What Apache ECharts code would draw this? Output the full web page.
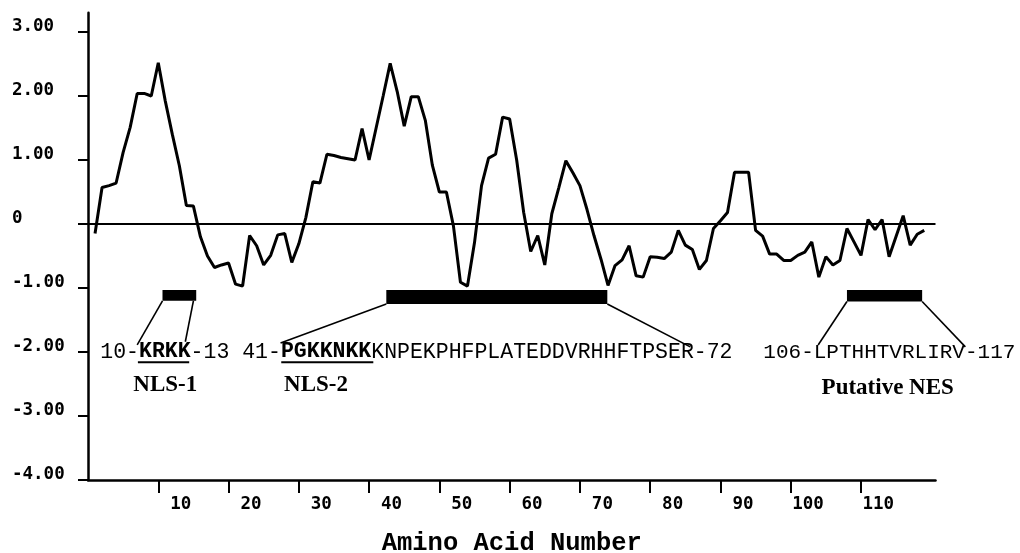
<!DOCTYPE html>
<html><head><meta charset="utf-8">
<script src="https://cdn.jsdelivr.net/npm/echarts@6/dist/echarts.min.js"></script>
<style>html,body{margin:0;padding:0;background:#fff}#c{width:1020px;height:553px}</style>
</head><body><div id="c"></div>
<script>
// Hydropathy values per residue (1..119)
const hydropathy = [
  -0.15, 0.57, 0.60, 0.64, 1.12, 1.51, 2.04, 2.04, 2.00, 2.52,
   1.92, 1.40, 0.91, 0.29, 0.28, -0.20, -0.50, -0.68, -0.64, -0.61,
  -0.94, -0.97, -0.18, -0.34, -0.64, -0.49, -0.17, -0.15, -0.60, -0.31,
   0.10, 0.66, 0.64, 1.09, 1.07, 1.04, 1.02, 1.00, 1.49, 1.00,
   1.50, 2.00, 2.51, 2.07, 1.53, 1.99, 1.99, 1.62, 0.92, 0.50,
   0.50, -0.03, -0.91, -0.97, -0.29, 0.60, 1.03, 1.09, 1.67, 1.64,
   1.00, 0.18, -0.43, -0.18, -0.64, 0.16, 0.57, 0.99, 0.80, 0.60,
   0.23, -0.18, -0.55, -0.96, -0.65, -0.56, -0.34, -0.81, -0.83, -0.51,
  -0.52, -0.54, -0.44, -0.10, -0.33, -0.40, -0.71, -0.57, -0.07, 0.05,
   0.18, 0.81, 0.81, 0.81, -0.10, -0.19, -0.47, -0.47, -0.57, -0.57,
  -0.49, -0.44, -0.28, -0.83, -0.51, -0.64, -0.57, -0.07, -0.28, -0.49,
   0.07, -0.09, 0.07, -0.51, -0.19, 0.13, -0.33, -0.16, -0.10
];
const residues = hydropathy.map((_, i) => i + 1);

const xTickValues = [10, 20, 30, 40, 50, 60, 70, 80, 90, 100, 110];
const xTickLabels = ['10', '20', '30', '40', '50', '60', '70', '80', '90', '100', '110'];
const yTickValues = [3, 2, 1, 0, -1, -2, -3, -4];
const yTickLabels = ['3.00', '2.00', '1.00', '0', '-1.00', '-2.00', '-3.00', '-4.00'];
const xAxisTitle = 'Amino Acid Number';

// Motif regions: [xStart, xEnd, yTop, yBottom] in data units
const motifBars = [[10.6, 15.4, -1.03, -1.20], [42.45, 73.9, -1.03, -1.25], [108.0, 118.7, -1.03, -1.21]];
// Leader lines: [x1, y1, x2, y2] in data units
const leaderLines = [
  [10.6, -1.20, 7.0, -1.89], [15.0, -1.20, 13.85, -1.84],
  [42.45, -1.25, 27.4, -1.86], [73.9, -1.25, 85.7, -1.92],
  [108.0, -1.21, 103.9, -1.89], [118.7, -1.21, 124.85, -1.92]
];
// Underlines: [x1, x2, y]
const underlines = [[7.1, 14.4, -2.16], [27.5, 40.6, -2.16]];
// Sequence texts and anchors
const sequenceTexts = ['10-{b|KRKK}-13 41-{b|PGKKNKK}KNPEKPHFPLATEDDVRHHFTPSER-72', '106-LPTHHTVRLIRV-117'];
const sequenceAnchors = [[1.75, -2.0], [96.1, -2.0]];
const sequenceFontSizes = [21.5, 21];
const motifNames = ['NLS-1', 'NLS-2', 'Putative NES'];
const motifNameAnchors = [[11.0, -2.52], [32.45, -2.52], [113.8, -2.56]];

const monoFont = 'Liberation Mono';
const tickFont = 'DejaVu Sans Mono';

const chart = echarts.init(document.getElementById('c'));
chart.setOption({
  animation: false,
  backgroundColor: '#fff',
  grid: { left: 88, right: 84.5, top: 12.8, bottom: 73, containLabel: false, outerBoundsMode: 'none' },
  xAxis: {
    type: 'value', min: 0, max: 120.6,
    axisLine: { show: true, onZero: false, lineStyle: { color: '#000', width: 2.5 } },
    axisTick: { show: true, customValues: xTickValues, length: 13, lineStyle: { color: '#000', width: 2 } },
    axisLabel: {
      customValues: xTickValues,
      formatter: v => '{t|' + xTickLabels[xTickValues.indexOf(v)] + '}',
      align: 'left', verticalAlign: 'middle', margin: 24,
      rich: { t: { width: 33, align: 'right', fontFamily: tickFont, fontSize: 17.5, fontWeight: 'bold', color: '#000' } }
    },
    splitLine: { show: false },
    name: xAxisTitle, nameLocation: 'middle', nameGap: 64,
    nameTextStyle: { fontFamily: monoFont, fontSize: 25.5, fontWeight: 'bold', color: '#000', verticalAlign: 'middle' }
  },
  yAxis: {
    type: 'value', min: -4, max: 3.3,
    axisLine: { show: true, onZero: false, lineStyle: { color: '#000', width: 2.5 } },
    axisTick: { show: true, customValues: yTickValues, length: 10, lineStyle: { color: '#000', width: 2 } },
    axisLabel: {
      customValues: yTickValues,
      formatter: v => '{t|' + yTickLabels[yTickValues.indexOf(v)] + '}',
      align: 'right', verticalAlign: 'middle', margin: 14, padding: [0, 0, 12, 0],
      rich: { t: { width: 62, align: 'left', fontFamily: tickFont, fontSize: 17.5, fontWeight: 'bold', color: '#000' } }
    },
    splitLine: { show: false }
  },
  series: [
    {
      type: 'line',
      data: residues.map((r, i) => [r, hydropathy[i]]),
      showSymbol: false, symbol: 'none', silent: true, z: 4,
      lineStyle: { color: '#000', width: 3 },
      emphasis: { disabled: true },
      markLine: {
        silent: true, symbol: 'none', label: { show: false },
        lineStyle: { color: '#000', width: 2, type: 'solid' },
        emphasis: { disabled: true },
        data: [{ yAxis: 0 }]
      }
    },
    {
      type: 'custom', coordinateSystem: 'cartesian2d', silent: true, clip: false, z: 5,
      data: motifBars, encode: { x: [0, 1], y: [2, 3] },
      renderItem(params, api) {
        const p1 = api.coord([api.value(0), api.value(2)]);
        const p2 = api.coord([api.value(1), api.value(3)]);
        return { type: 'rect', shape: { x: p1[0], y: p1[1], width: p2[0] - p1[0], height: p2[1] - p1[1] }, style: { fill: '#000' } };
      }
    },
    {
      type: 'custom', coordinateSystem: 'cartesian2d', silent: true, clip: false, z: 5,
      data: leaderLines, encode: { x: [0, 2], y: [1, 3] },
      renderItem(params, api) {
        const p1 = api.coord([api.value(0), api.value(1)]);
        const p2 = api.coord([api.value(2), api.value(3)]);
        return { type: 'line', shape: { x1: p1[0], y1: p1[1], x2: p2[0], y2: p2[1] }, style: { stroke: '#000', lineWidth: 1.6 } };
      }
    },
    {
      type: 'custom', coordinateSystem: 'cartesian2d', silent: true, clip: false, z: 5,
      data: underlines, encode: { x: [0, 1], y: 2 },
      renderItem(params, api) {
        const p1 = api.coord([api.value(0), api.value(2)]);
        const p2 = api.coord([api.value(1), api.value(2)]);
        return { type: 'line', shape: { x1: p1[0], y1: p1[1], x2: p2[0], y2: p2[1] }, style: { stroke: '#000', lineWidth: 2 } };
      }
    },
    {
      type: 'custom', coordinateSystem: 'cartesian2d', silent: true, clip: false, z: 6,
      data: sequenceAnchors, encode: { x: 0, y: 1 },
      renderItem(params, api) {
        const p = api.coord([api.value(0), api.value(1)]);
        const fs = sequenceFontSizes[params.dataIndex];
        return {
          type: 'text',
          style: {
            x: p[0], y: p[1], text: sequenceTexts[params.dataIndex],
            fontFamily: monoFont, fontSize: fs, fill: '#000',
            align: 'left', verticalAlign: 'middle',
            rich: { b: { fontFamily: monoFont, fontSize: fs, fontWeight: 'bold', fill: '#000' } }
          }
        };
      }
    },
    {
      type: 'custom', coordinateSystem: 'cartesian2d', silent: true, clip: false, z: 6,
      data: motifNameAnchors, encode: { x: 0, y: 1 },
      renderItem(params, api) {
        const p = api.coord([api.value(0), api.value(1)]);
        return {
          type: 'text',
          style: {
            x: p[0], y: p[1], text: motifNames[params.dataIndex],
            fontFamily: 'Liberation Serif', fontSize: 23, fontWeight: 'bold', fill: '#000',
            align: 'center', verticalAlign: 'middle'
          }
        };
      }
    }
  ]
});
</script>
</body></html>
